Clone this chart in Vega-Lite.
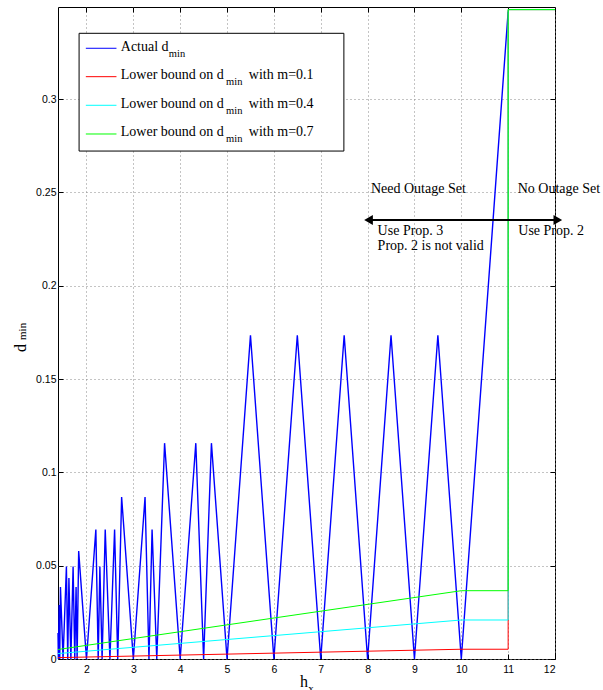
{
  "$schema": "https://vega.github.io/schema/vega-lite/v6.json",
  "width": 497,
  "height": 652,
  "autosize": {"type": "none"},
  "padding": {"left": 58, "top": 7, "right": 48, "bottom": 31},
  "background": "white",
  "config": {
    "view": {"stroke": "#000", "strokeWidth": 1},
    "axis": {"labelFont": "Liberation Sans", "labelFontSize": 10.5, "labelColor": "#000", "tickColor": "#000", "domain": false, "title": null}
  },
  "datasets": {
    "actual": [
      {"h": 1.392, "d": 0.0139}, {"h": 1.4, "d": 0}, {"h": 1.41667, "d": 0.02892}, {"h": 1.42857, "d": 0},
      {"h": 1.44444, "d": 0.03856}, {"h": 1.5, "d": 0}, {"h": 1.57143, "d": 0.04957}, {"h": 1.6, "d": 0},
      {"h": 1.625, "d": 0.04338}, {"h": 1.66667, "d": 0}, {"h": 1.71429, "d": 0.04957}, {"h": 1.75, "d": 0},
      {"h": 1.77778, "d": 0.03856}, {"h": 1.8, "d": 0}, {"h": 1.83333, "d": 0.05783}, {"h": 2, "d": 0},
      {"h": 2.2, "d": 0.0694}, {"h": 2.25, "d": 0}, {"h": 2.28571, "d": 0.04957}, {"h": 2.33333, "d": 0},
      {"h": 2.4, "d": 0.0694}, {"h": 2.5, "d": 0}, {"h": 2.6, "d": 0.0694}, {"h": 2.66667, "d": 0},
      {"h": 2.75, "d": 0.08675}, {"h": 3, "d": 0}, {"h": 3.25, "d": 0.08675}, {"h": 3.33333, "d": 0},
      {"h": 3.4, "d": 0.0694}, {"h": 3.5, "d": 0}, {"h": 3.66667, "d": 0.11567}, {"h": 4, "d": 0},
      {"h": 4.33333, "d": 0.11567}, {"h": 4.5, "d": 0}, {"h": 4.66667, "d": 0.11567}, {"h": 5, "d": 0},
      {"h": 5.5, "d": 0.1735}, {"h": 6, "d": 0}, {"h": 6.5, "d": 0.1735}, {"h": 7, "d": 0},
      {"h": 7.5, "d": 0.1735}, {"h": 8, "d": 0}, {"h": 8.5, "d": 0.1735}, {"h": 9, "d": 0},
      {"h": 9.5, "d": 0.1735}, {"h": 10, "d": 0}, {"h": 11, "d": 0.347}
    ],
    "m01": [
      {"i": 0, "h": 1.392, "d": 0.00073}, {"i": 1, "h": 10, "d": 0.00523}, {"i": 2, "h": 11, "d": 0.00523},
      {"i": 3, "h": 11, "d": 0.348}, {"i": 4, "h": 12, "d": 0.348}
    ],
    "m04": [
      {"i": 0, "h": 1.392, "d": 0.00291}, {"i": 1, "h": 10, "d": 0.0209}, {"i": 2, "h": 11, "d": 0.0209},
      {"i": 3, "h": 11, "d": 0.348}, {"i": 4, "h": 12, "d": 0.348}
    ],
    "m07": [
      {"i": 0, "h": 1.392, "d": 0.00509}, {"i": 1, "h": 10, "d": 0.0366}, {"i": 2, "h": 11, "d": 0.0366},
      {"i": 3, "h": 11, "d": 0.348}, {"i": 4, "h": 12, "d": 0.348}
    ],
    "legendBox": [{"h": 1.842, "h2": 7.494, "d": 0.2722, "d2": 0.3353}],
    "legendLines": [
      {"s": "Actual", "h": 1.986, "h2": 2.64, "d": 0.32728},
      {"s": "m=0.1", "h": 1.986, "h2": 2.64, "d": 0.31206},
      {"s": "m=0.4", "h": 1.986, "h2": 2.64, "d": 0.29673},
      {"s": "m=0.7", "h": 1.986, "h2": 2.64, "d": 0.28135}
    ],
    "texts": [
      {"t": "Actual d", "h": 2.732, "d": 0.32599},
      {"t": "Lower bound on d", "h": 2.732, "d": 0.31083},
      {"t": "with m=0.1", "h": 5.466, "d": 0.31083},
      {"t": "Lower bound on d", "h": 2.732, "d": 0.2955},
      {"t": "with m=0.4", "h": 5.466, "d": 0.2955},
      {"t": "Lower bound on d", "h": 2.732, "d": 0.28012},
      {"t": "with m=0.7", "h": 5.466, "d": 0.28012},
      {"t": "Need Outage Set", "h": 8.071, "d": 0.24989},
      {"t": "No Outage Set", "h": 11.203, "d": 0.24989},
      {"t": "Use Prop. 3", "h": 8.214, "d": 0.22722},
      {"t": "Prop. 2 is not valid", "h": 8.214, "d": 0.21918},
      {"t": "Use Prop. 2", "h": 11.216, "d": 0.22722}
    ],
    "subs": [
      {"t": "min", "h": 3.757, "d": 0.32599},
      {"t": "min", "h": 4.98, "d": 0.31083},
      {"t": "min", "h": 4.98, "d": 0.2955},
      {"t": "min", "h": 4.98, "d": 0.28012}
    ],
    "arrow": [{"h": 8.01, "h2": 12.07, "d": 0.2353}],
    "heads": [{"h": 8.02, "d": 0.2353, "dir": "L"}, {"h": 12.06, "d": 0.2353, "dir": "R"}],
    "xtitle": [{"t": "h", "h": 6.5575, "d": -0.01484}],
    "xtitleSub": [{"t": "x", "h": 6.736, "d": -0.01484}],
    "ytitle": [{"t": "d", "h": 0.7038, "d": 0.16452}],
    "ytitleSub": [{"t": "min", "h": 0.7038, "d": 0.16828}]
  },
  "layer": [
    {
      "data": {"name": "actual"},
      "mark": {"type": "line", "color": "#0000ff", "strokeWidth": 1.4},
      "encoding": {
        "x": {"field": "h", "type": "quantitative", "scale": {"domain": [1.392, 12], "nice": false, "zero": false},
          "axis": {"orient": "bottom", "values": [2, 3, 4, 5, 6, 7, 8, 9, 10, 11, 12], "format": "d", "grid": true, "gridDash": [1, 3], "gridColor": "#888", "tickSize": -5, "labelPadding": 10}},
        "y": {"field": "d", "type": "quantitative", "scale": {"domain": [0, 0.3494], "nice": false, "zero": false},
          "axis": {"orient": "left", "values": [0, 0.05, 0.1, 0.15, 0.2, 0.25, 0.3], "format": "~g", "grid": true, "gridDash": [1, 3], "gridColor": "#888", "tickSize": -5, "labelPadding": 7}}
      }
    },
    {
      "data": {"name": "m01"},
      "mark": {"type": "line", "color": "#ff0000", "strokeWidth": 1},
      "encoding": {
        "x": {"field": "h", "type": "quantitative", "scale": {"domain": [1.392, 12], "nice": false, "zero": false},
          "axis": {"orient": "top", "values": [2, 3, 4, 5, 6, 7, 8, 9, 10, 11, 12], "labels": false, "grid": false, "tickSize": -5}},
        "y": {"field": "d", "type": "quantitative", "scale": {"domain": [0, 0.3494], "nice": false, "zero": false},
          "axis": {"orient": "right", "values": [0, 0.05, 0.1, 0.15, 0.2, 0.25, 0.3], "labels": false, "grid": false, "tickSize": -5}},
        "order": {"field": "i"}
      }
    },
    {
      "data": {"name": "m04"},
      "mark": {"type": "line", "color": "#00ffff", "strokeWidth": 1},
      "encoding": {
        "x": {"field": "h", "type": "quantitative", "scale": {"domain": [1.392, 12], "nice": false, "zero": false}, "axis": null},
        "y": {"field": "d", "type": "quantitative", "scale": {"domain": [0, 0.3494], "nice": false, "zero": false}, "axis": null},
        "order": {"field": "i"}
      }
    },
    {
      "data": {"name": "m07"},
      "mark": {"type": "line", "color": "#00ff00", "strokeWidth": 1},
      "encoding": {
        "x": {"field": "h", "type": "quantitative", "scale": {"domain": [1.392, 12], "nice": false, "zero": false}, "axis": null},
        "y": {"field": "d", "type": "quantitative", "scale": {"domain": [0, 0.3494], "nice": false, "zero": false}, "axis": null},
        "order": {"field": "i"}
      }
    },
    {
      "data": {"name": "legendBox"},
      "mark": {"type": "rect", "fill": "white", "stroke": "#000", "strokeWidth": 1},
      "encoding": {
        "x": {"field": "h", "type": "quantitative", "scale": {"domain": [1.392, 12], "nice": false, "zero": false}, "axis": null},
        "x2": {"field": "h2"},
        "y": {"field": "d", "type": "quantitative", "scale": {"domain": [0, 0.3494], "nice": false, "zero": false}, "axis": null},
        "y2": {"field": "d2"}
      }
    },
    {
      "data": {"name": "legendLines"},
      "mark": {"type": "rule", "strokeWidth": 1},
      "encoding": {
        "x": {"field": "h", "type": "quantitative", "scale": {"domain": [1.392, 12], "nice": false, "zero": false}, "axis": null},
        "x2": {"field": "h2"},
        "y": {"field": "d", "type": "quantitative", "scale": {"domain": [0, 0.3494], "nice": false, "zero": false}, "axis": null},
        "color": {"field": "s", "type": "nominal", "scale": {"domain": ["Actual", "m=0.1", "m=0.4", "m=0.7"], "range": ["#0000ff", "#ff0000", "#00ffff", "#00ff00"]}, "legend": null}
      }
    },
    {
      "data": {"name": "texts"},
      "mark": {"type": "text", "font": "Liberation Serif", "fontSize": 14, "align": "left", "baseline": "alphabetic", "color": "#000"},
      "encoding": {
        "x": {"field": "h", "type": "quantitative", "scale": {"domain": [1.392, 12], "nice": false, "zero": false}, "axis": null},
        "y": {"field": "d", "type": "quantitative", "scale": {"domain": [0, 0.3494], "nice": false, "zero": false}, "axis": null},
        "text": {"field": "t"}
      }
    },
    {
      "data": {"name": "subs"},
      "mark": {"type": "text", "font": "Liberation Serif", "fontSize": 10.5, "align": "left", "baseline": "alphabetic", "dy": 6, "color": "#000"},
      "encoding": {
        "x": {"field": "h", "type": "quantitative", "scale": {"domain": [1.392, 12], "nice": false, "zero": false}, "axis": null},
        "y": {"field": "d", "type": "quantitative", "scale": {"domain": [0, 0.3494], "nice": false, "zero": false}, "axis": null},
        "text": {"field": "t"}
      }
    },
    {
      "data": {"name": "arrow"},
      "mark": {"type": "rule", "color": "#000", "strokeWidth": 2},
      "encoding": {
        "x": {"field": "h", "type": "quantitative", "scale": {"domain": [1.392, 12], "nice": false, "zero": false}, "axis": null},
        "x2": {"field": "h2"},
        "y": {"field": "d", "type": "quantitative", "scale": {"domain": [0, 0.3494], "nice": false, "zero": false}, "axis": null}
      }
    },
    {
      "data": {"name": "heads"},
      "mark": {"type": "point", "filled": true, "color": "#000", "size": 100, "opacity": 1},
      "encoding": {
        "x": {"field": "h", "type": "quantitative", "scale": {"domain": [1.392, 12], "nice": false, "zero": false}, "axis": null},
        "y": {"field": "d", "type": "quantitative", "scale": {"domain": [0, 0.3494], "nice": false, "zero": false}, "axis": null},
        "shape": {"field": "dir", "type": "nominal", "scale": {"domain": ["L", "R"], "range": ["triangle-left", "triangle-right"]}, "legend": null}
      }
    },
    {
      "data": {"name": "xtitle"},
      "mark": {"type": "text", "font": "Liberation Serif", "fontSize": 16, "align": "left", "baseline": "alphabetic", "color": "#000"},
      "encoding": {
        "x": {"field": "h", "type": "quantitative", "scale": {"domain": [1.392, 12], "nice": false, "zero": false}, "axis": null},
        "y": {"field": "d", "type": "quantitative", "scale": {"domain": [0, 0.3494], "nice": false, "zero": false}, "axis": null},
        "text": {"field": "t"}
      }
    },
    {
      "data": {"name": "xtitleSub"},
      "mark": {"type": "text", "font": "Liberation Serif", "fontSize": 11, "align": "left", "baseline": "alphabetic", "dy": 5, "color": "#000"},
      "encoding": {
        "x": {"field": "h", "type": "quantitative", "scale": {"domain": [1.392, 12], "nice": false, "zero": false}, "axis": null},
        "y": {"field": "d", "type": "quantitative", "scale": {"domain": [0, 0.3494], "nice": false, "zero": false}, "axis": null},
        "text": {"field": "t"}
      }
    },
    {
      "data": {"name": "ytitle"},
      "mark": {"type": "text", "font": "Liberation Serif", "fontSize": 16, "align": "left", "baseline": "alphabetic", "angle": 270, "color": "#000"},
      "encoding": {
        "x": {"field": "h", "type": "quantitative", "scale": {"domain": [1.392, 12], "nice": false, "zero": false}, "axis": null},
        "y": {"field": "d", "type": "quantitative", "scale": {"domain": [0, 0.3494], "nice": false, "zero": false}, "axis": null},
        "text": {"field": "t"}
      }
    },
    {
      "data": {"name": "ytitleSub"},
      "mark": {"type": "text", "font": "Liberation Serif", "fontSize": 11, "align": "left", "baseline": "alphabetic", "angle": 270, "dx": 5, "color": "#000"},
      "encoding": {
        "x": {"field": "h", "type": "quantitative", "scale": {"domain": [1.392, 12], "nice": false, "zero": false}, "axis": null},
        "y": {"field": "d", "type": "quantitative", "scale": {"domain": [0, 0.3494], "nice": false, "zero": false}, "axis": null},
        "text": {"field": "t"}
      }
    }
  ],
  "resolve": {"axis": {"x": "independent", "y": "independent"}}
}
